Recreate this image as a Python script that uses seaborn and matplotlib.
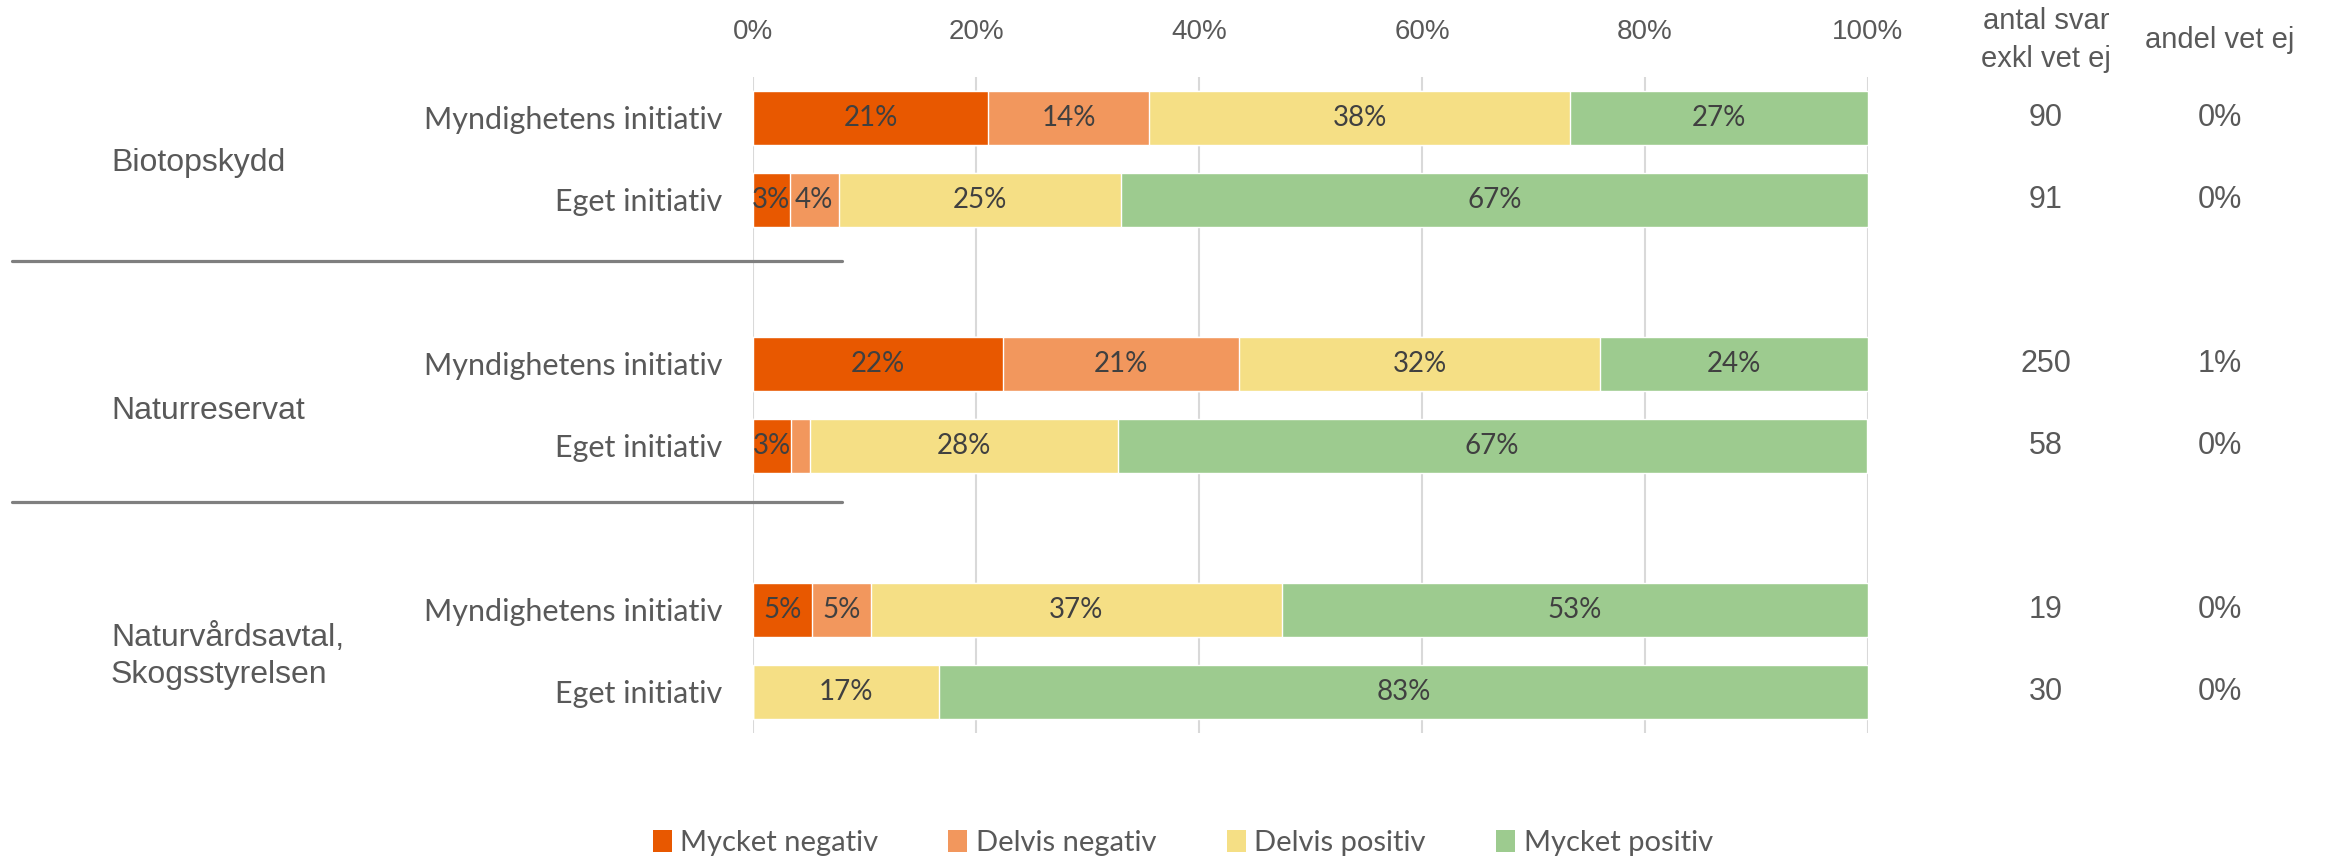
import pandas as pd
import seaborn as sns
import matplotlib.pyplot as plt
import matplotlib.transforms as mtransforms
from matplotlib.lines import Line2D
from matplotlib.patches import Patch

grupper = ['Biotopskydd', 'Naturreservat', 'Naturvårdsavtal,\nSkogsstyrelsen']
initiativ = ['Myndighetens initiativ', 'Eget initiativ']
kategorier = ['Mycket negativ', 'Delvis negativ', 'Delvis positiv', 'Mycket positiv']
farger = ['#E85800', '#F2975D', '#F5DF85', '#9DCB8F']

# andelar i procent, en rad per stapel uppifrån
mycket_negativ = [21.1, 3.3, 22.4, 3.4, 5.3, 0.0]
delvis_negativ = [14.4, 4.4, 21.2, 1.7, 5.3, 0.0]
delvis_positiv = [37.8, 25.3, 32.4, 27.6, 36.8, 16.7]
mycket_positiv = [26.7, 67.0, 24.0, 67.2, 52.6, 83.3]

antal_svar = [90, 91, 250, 58, 19, 30]
andel_vet_ej = ['0%', '0%', '1%', '0%', '0%', '0%']

rader = ['r0', 'r1', 'r2', 'r3', 'r4', 'r5']
ordning = ['r0', 'r1', 'g1', 'r2', 'r3', 'g2', 'r4', 'r5']

df = pd.DataFrame({'rad': rader,
                   'Mycket negativ': mycket_negativ,
                   'Delvis negativ': delvis_negativ,
                   'Delvis positiv': delvis_positiv,
                   'Mycket positiv': mycket_positiv})
kum = df[kategorier].cumsum(axis=1)
for k in kategorier:
    df['kum_' + k] = kum[k]

sns.set_style('white')
plt.rcParams['font.family'] = ['Liberation Sans', 'DejaVu Sans']
gra = '#595959'
morkgra = '#404040'
calibri = ['Lato', 'DejaVu Sans']

fig = plt.figure(figsize=(23.28, 8.57), dpi=100)
ax = fig.add_axes([753 / 2328, 1 - 733 / 857, 1115 / 2328, 656 / 857])

# staplade staplar: rita kumulativa summor bakifrån
for k, f in reversed(list(zip(kategorier, farger))):
    sns.barplot(data=df, x='kum_' + k, y='rad', order=ordning, orient='h',
                color=f, saturation=1, width=0.67, errorbar=None,
                edgecolor='white', linewidth=1, ax=ax)

for i, r in enumerate(rader):
    pos = ordning.index(r)
    vanster = 0
    for k in kategorier:
        v = df.loc[i, k]
        if v >= 2.5:
            ax.text(vanster + v / 2, pos, f'{v:.0f}%', ha='center', va='center',
                    fontsize=20, color=morkgra, family=calibri)
        vanster += v

ax.set_xlim(0, 100)
ax.set_xticks(range(0, 101, 20))
ax.set_xticklabels([f'{t}%' for t in range(0, 101, 20)], fontsize=20, color=gra)
ax.xaxis.tick_top()
ax.tick_params(axis='x', length=0, pad=23)
ytext = []
for r in ordning:
    ytext.append(initiativ[int(r[1]) % 2] if r.startswith('r') else '')
ax.set_yticks(range(len(ordning)))
ax.set_yticklabels(ytext, fontsize=22, color=gra, family=calibri)
ax.tick_params(axis='y', length=0, pad=22)
ax.set_xlabel('')
ax.set_ylabel('')
ax.grid(axis='x', color='#D9D9D9', linewidth=1.5)
ax.set_axisbelow(True)
for s in ax.spines.values():
    s.set_visible(False)

blend = mtransforms.blended_transform_factory(fig.transFigure, ax.transData)
for g, p in zip(grupper, [0.55, 3.57, 6.57]):
    fig.text(111 / 2328, p, g, transform=blend, ha='left', va='center',
             fontsize=23, color=gra, linespacing=1.3)

fig.text(2046 / 2328, 1 - 40 / 857, 'antal svar\nexkl vet ej', ha='center', va='center',
         fontsize=21, color=gra, linespacing=1.45)
fig.text(2220 / 2328, 1 - 40 / 857, 'andel vet ej', ha='center', va='center',
         fontsize=21, color=gra)
for r, n, a in zip(rader, antal_svar, andel_vet_ej):
    pos = ordning.index(r)
    fig.text(2046 / 2328, pos, str(n), transform=blend, ha='center', va='center',
             fontsize=22, color=gra)
    fig.text(2220 / 2328, pos, a, transform=blend, ha='center', va='center',
             fontsize=22, color=gra)

for yy in [1 - 261 / 857, 1 - 502 / 857]:
    fig.add_artist(Line2D([12 / 2328, 842 / 2328], [yy, yy], color='#7F7F7F', linewidth=2.3))

handles = [Patch(facecolor=f, edgecolor='none') for f in farger]
leg = fig.legend(handles, kategorier, loc='center', bbox_to_anchor=(0.508, 0.0163),
                 ncol=4, frameon=False, handlelength=0.65, handleheight=0.75,
                 handletextpad=0.3, columnspacing=2.4,
                 prop={'family': calibri, 'size': 21})
for t in leg.get_texts():
    t.set_color(gra)

fig.savefig('out.png', dpi=100)
